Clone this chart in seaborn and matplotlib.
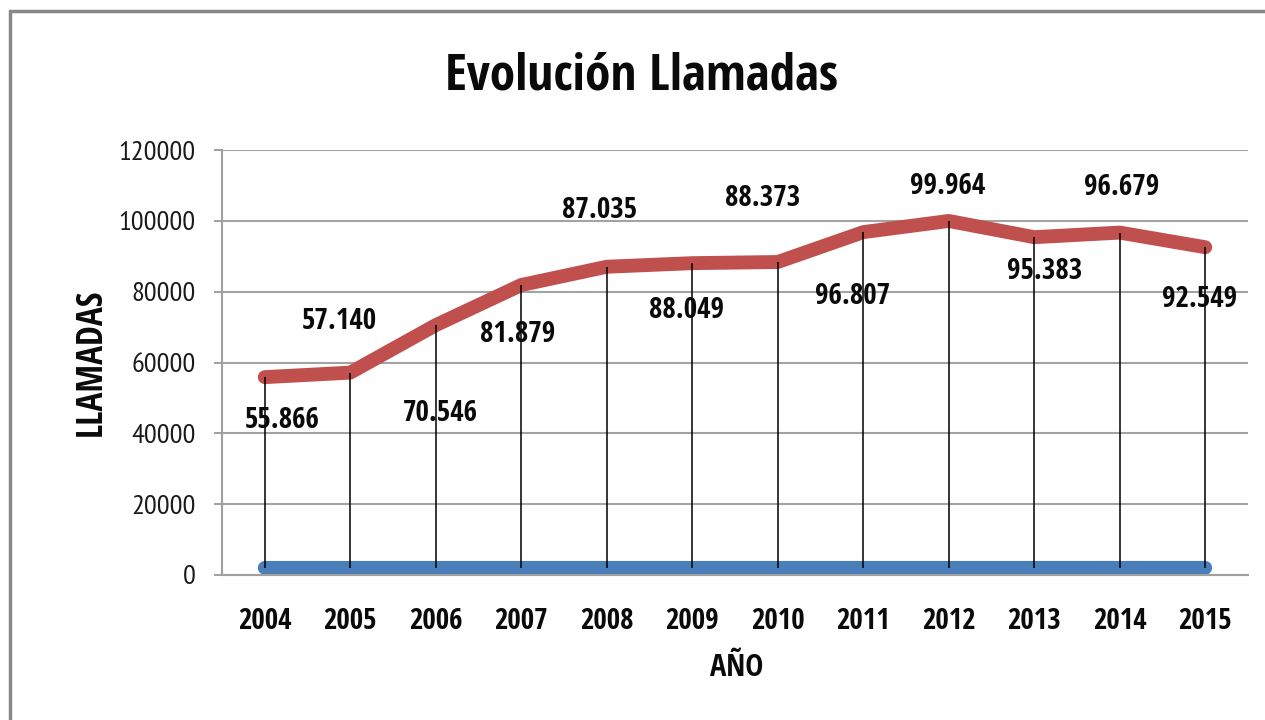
import matplotlib
matplotlib.use("Agg")
import matplotlib.pyplot as plt
import seaborn as sns
import pandas as pd
from matplotlib.patches import Rectangle

# ---- data ----
years = ["2004", "2005", "2006", "2007", "2008", "2009", "2010", "2011", "2012", "2013", "2014", "2015"]
llamadas = [55866, 57140, 70546, 81879, 87035, 88049, 88373, 96807, 99964, 95383, 96679, 92549]
anio_values = [2004, 2005, 2006, 2007, 2008, 2009, 2010, 2011, 2012, 2013, 2014, 2015]
data_labels = ["55.866", "57.140", "70.546", "81.879", "87.035", "88.049",
               "88.373", "96.807", "99.964", "95.383", "96.679", "92.549"]
yticks = [0, 20000, 40000, 60000, 80000, 100000, 120000]

# label placement offsets (pixels, relative to each point)
label_dx = [17, -11, 5, -4, -7, -6, -15, -11, -1, 10, 2, -6]
label_dy = [-43, 51, -88, -49, 56, -47, 64, -64, 34, -34, 45, -52]

sns.set_style("white")
BOLD_FONT = ['Open Sans Condensed', 'PT Sans Narrow', 'Liberation Sans', 'DejaVu Sans']
REG_FONT = ['PT Sans Narrow', 'Liberation Sans', 'DejaVu Sans']
plt.rcParams['font.family'] = REG_FONT

fig = plt.figure(figsize=(12.65, 7.2), dpi=100)
ax = fig.add_axes([222/1265, 1-575/720, (1248-222)/1265, (575-150)/720])

df = pd.DataFrame({"pos": range(len(years)), "llamadas": llamadas, "anio": anio_values})

# drop lines
ax.vlines(df["pos"], df["anio"], df["llamadas"], colors="black", linewidth=1.1, zorder=3)

sns.lineplot(data=df, x="pos", y="anio", ax=ax, color="#4A7EBB", linewidth=10, zorder=2)
sns.lineplot(data=df, x="pos", y="llamadas", ax=ax, color="#C0504D", linewidth=10, zorder=2)
for l in ax.lines:
    l.set_solid_capstyle("round")
    l.set_solid_joinstyle("round")

for i, (v, lab) in enumerate(zip(llamadas, data_labels)):
    ax.annotate(lab, (i, v), xytext=(label_dx[i], label_dy[i]), textcoords="offset pixels",
                ha="center", va="center", fontsize=21, fontweight="bold", family=BOLD_FONT,
                color="#0A0A0A", zorder=5)

ax.set_xlim(-0.5, len(years) - 0.5)
ax.set_ylim(0, 120000)
ax.set_yticks(yticks)
ax.set_yticklabels([str(t) for t in yticks], fontsize=20.5, color="#1A1A1A", family=REG_FONT)
ax.set_xticks(range(len(years)))
ax.set_xticklabels(years, fontsize=21, fontweight="bold", color="#0A0A0A", family=BOLD_FONT)
ax.tick_params(axis="y", length=6, width=1.2, color="#909090", pad=13, left=True)
ax.tick_params(axis="x", length=0, pad=23)
ax.yaxis.grid(True, color="#A3A3A3", linewidth=1.5)
ax.set_axisbelow(True)
for s in ["top", "right"]:
    ax.spines[s].set_visible(False)
for s in ["left", "bottom"]:
    ax.spines[s].set_color("#A0A0A0")
    ax.spines[s].set_linewidth(1.5)
ax.set_xlabel("")
ax.set_ylabel("")

fig.text(642/1265, 1-76/720, "Evolución Llamadas", ha="center", va="center",
         fontsize=37, fontweight="bold", color="#0A0A0A", family=BOLD_FONT)
fig.text(92/1265, 1-362/720, "LLAMADAS", ha="center", va="center", rotation=90,
         fontsize=25.5, fontweight="bold", color="#0A0A0A", family=BOLD_FONT)
fig.text(737/1265, 1-668/720, "AÑO", ha="center", va="center",
         fontsize=22, fontweight="bold", color="#0A0A0A", family=BOLD_FONT)

fig.patches.append(Rectangle((10/1265, -0.5), 2, 0.5 + (1-11/720), transform=fig.transFigure,
                             fill=False, edgecolor="#888888", linewidth=2.5))

fig.savefig("out.png", dpi=100)
